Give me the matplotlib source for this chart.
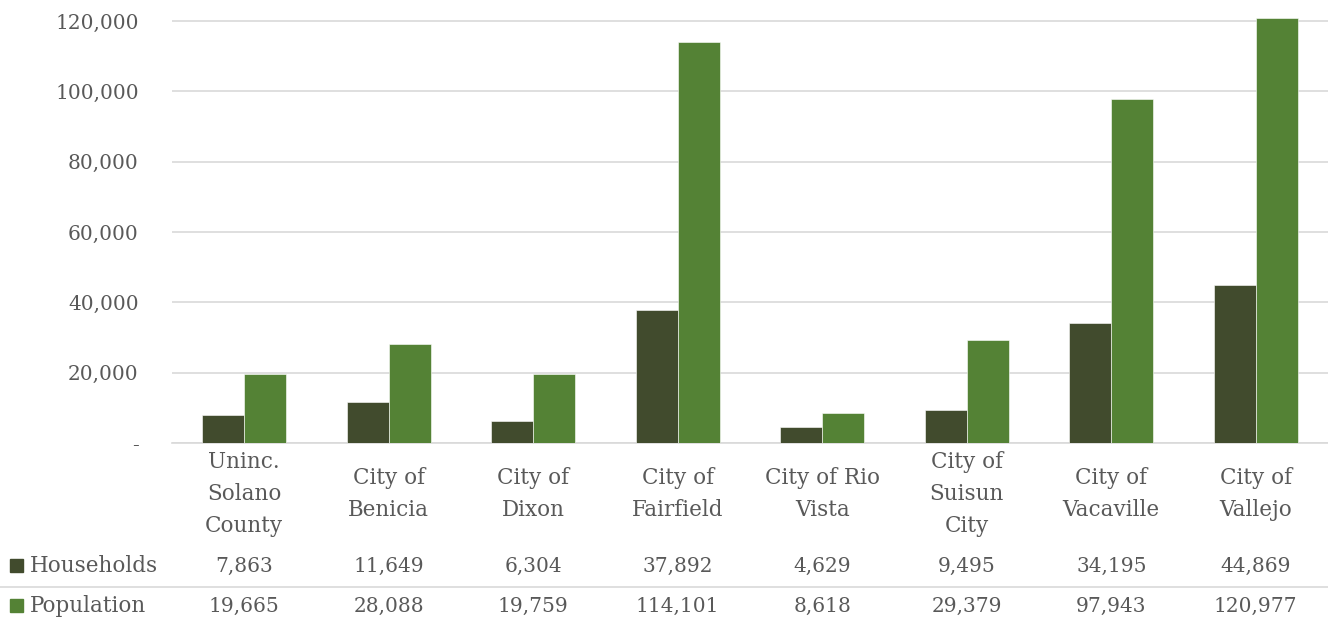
import numpy as np
import matplotlib
matplotlib.use("Agg")
import matplotlib.pyplot as plt
from matplotlib.ticker import FuncFormatter
from matplotlib.patches import Rectangle
from matplotlib.lines import Line2D
import matplotlib.transforms as mtransforms

categories = ["Uninc.\nSolano\nCounty", "City of\nBenicia", "City of\nDixon", "City of\nFairfield",
              "City of Rio\nVista", "City of\nSuisun\nCity", "City of\nVacaville", "City of\nVallejo"]
households = [7863, 11649, 6304, 37892, 4629, 9495, 34195, 44869]
population = [19665, 28088, 19759, 114101, 8618, 29379, 97943, 120977]
series_names = ["Households", "Population"]
colors = ["#414b2d", "#548235"]

W, H = 1328, 621
text_color = "#595959"
grid_color = "#d9d9d9"
plt.rcParams['font.family'] = ['DejaVu Serif']

fig = plt.figure(figsize=(W / 100, H / 100), dpi=100)
# axes placed in pixels
left_px, right_px, top_px, bottom_px = 172, 1328, 17, 443
ax = fig.add_axes([left_px / W, 1 - bottom_px / H, (right_px - left_px) / W, (bottom_px - top_px) / H])

x = np.arange(len(categories))
bw = 0.29
ax.bar(x - bw / 2, households, bw, color=colors[0], edgecolor="white", linewidth=0.4, zorder=3)
ax.bar(x + bw / 2, population, bw, color=colors[1], edgecolor="white", linewidth=0.4, zorder=3)

ax.set_xlim(-0.5, len(categories) - 0.5)
ax.set_ylim(0, 120000 * (bottom_px - top_px) / (443 - 21))
ax.set_yticks(np.arange(0, 120001, 20000))
ax.yaxis.set_major_formatter(FuncFormatter(lambda v, p: "-" if v == 0 else f"{int(v):,}"))
ax.grid(axis="y", color=grid_color, linewidth=1.2, zorder=0)
for s in ["top", "right", "left"]:
    ax.spines[s].set_visible(False)
ax.spines["bottom"].set_color(grid_color)
ax.spines["bottom"].set_linewidth(1.2)
ax.tick_params(axis="y", length=0, pad=24, labelsize=14.5, labelcolor=text_color)
ax.tick_params(axis="x", length=0, labelbottom=False)

# table below the axes: x in data, y in figure pixels
trans = mtransforms.blended_transform_factory(ax.transData, fig.transFigure)
def fy(py):
    return 1 - py / H

for i, cat in enumerate(categories):
    ax.text(i, fy(494), cat, transform=trans, ha="center", va="center",
            fontsize=15.5, color=text_color, linespacing=1.6, clip_on=False)
    ax.text(i, fy(566), f"{households[i]:,}", transform=trans, ha="center", va="center",
            fontsize=14.5, color=text_color, clip_on=False)
    ax.text(i, fy(606), f"{population[i]:,}", transform=trans, ha="center", va="center",
            fontsize=14.5, color=text_color, clip_on=False)

for row_y, name, c in [(566, series_names[0], colors[0]), (606, series_names[1], colors[1])]:
    fig.patches.append(Rectangle((10 / W, fy(row_y + 6)), 13 / W, 13 / H,
                                 transform=fig.transFigure, color=c))
    fig.text(30 / W, fy(row_y), name, ha="left", va="center", fontsize=15.5, color=text_color)

fig.lines.append(Line2D([0, 1], [fy(587), fy(587)], transform=fig.transFigure,
                        color=grid_color, linewidth=1.2))

fig.savefig("out.png", dpi=100)
